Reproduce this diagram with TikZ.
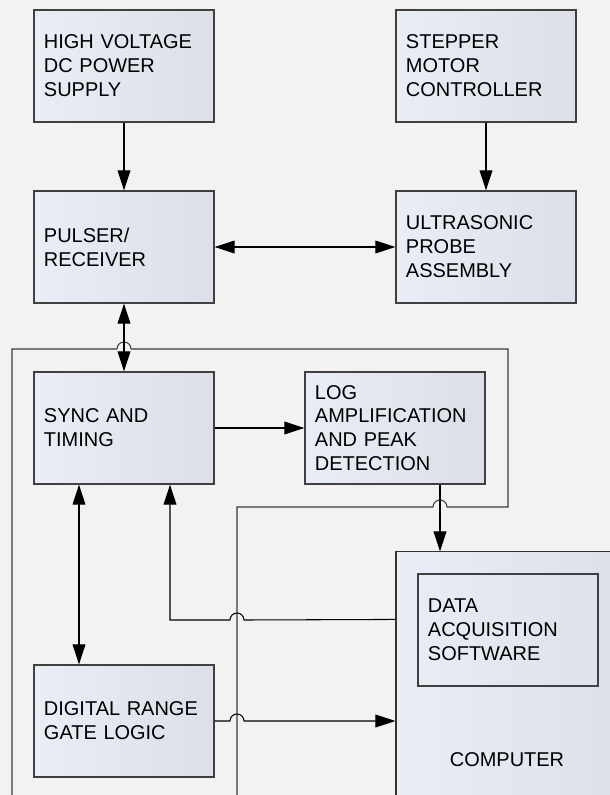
\documentclass[tikz,border=0pt]{standalone}
\usepackage{fontspec}
\setmainfont{Liberation Sans}
\usetikzlibrary{positioning,calc,arrows.meta}

\definecolor{bggray}{HTML}{F2F2F2}
\definecolor{boxlight}{HTML}{E9EDF6}
\definecolor{boxdark}{HTML}{DCDFE8}
\definecolor{loopgray}{HTML}{3A3A3A}

\begin{document}
\begin{tikzpicture}[x=0.025cm, y=0.025cm, >={Triangle[length=0.5cm,width=0.32cm]}]
	\fill[bggray] (0,0) rectangle (610,-795);
	\clip (0,0) rectangle (610,-795);
	\tikzstyle{every node}=[font=\fontsize{14.2}{17}\selectfont, inner sep=1pt]
	\tikzstyle{frame}=[draw=black!75, line width=0.9pt, minimum width=4.5cm, minimum height=2.8cm, text width=4cm, inner xsep=0.25cm, align=left]
	\tikzstyle{block}=[frame, left color=boxlight, right color=boxdark]
	\tikzstyle{link}=[line width=0.75pt]

	% computer and its software
	\node[draw=black!80, line width=0.75pt, left color=boxlight, right color=boxdark, minimum width=6.1cm, minimum height=6.7cm] (comp) at (518,-686) {};
	\node[frame] (daq) at (508,-630) {DATA\\ACQUISITION\\SOFTWARE};
	\node (comptext) at (507,-760) {COMPUTER};

	\node[block] (hv) at (124,-66) {HIGH VOLTAGE\\DC POWER\\SUPPLY};
	\node[block] (stepper) at (486,-66) {STEPPER\\MOTOR\\CONTROLLER};
	\node[block] (pulser) at (124,-247) {PULSER/\\RECEIVER};
	\node[block] (ultra) at (486,-247) {ULTRASONIC\\PROBE\\ASSEMBLY};
	\node[block] (sync) at (124,-428) {SYNC AND\\TIMING};
	\node[block] (log) at (395,-428) {LOG\\AMPLIFICATION\\AND PEAK\\DETECTION};
	\node[block] (dig) at (124,-721) {DIGITAL RANGE\\GATE LOGIC};

	% loop line running off the bottom
	\coordinate (loopa) at (12,-800);
	\coordinate (loopb) at (237,-800);
	\draw[link, loopgray] (loopa) -- (12,-349) -- (117,-349) arc[start angle=180, end angle=0, radius=7]
		-- (508,-349) -- (508,-507) -- (447,-507) arc[start angle=0, end angle=180, radius=7]
		-- (237,-507) -- (loopb);

	\draw[link, ->] (hv) to (pulser);
	\draw[link, ->] (stepper) to (ultra);
	\draw[link, <->] (pulser) to (ultra);
	\draw[link, <->] (pulser) to (sync);
	\draw[link, ->] (sync) to (log);
	\draw[link, ->] ($(log.south)+(45,0)$) coordinate (lg) -- (lg |- comp.north);
	\draw[link, <->] ($(sync.south)+(-45,0)$) coordinate (sd) -- (sd |- dig.north);
	\draw[link, ->] ($(comp.north west)+(0,-68)$) -- (244,-620) arc[start angle=0, end angle=180, radius=7]
		-- (170,-620) -- ($(sync.south)+(46,0)$);
	\draw[link, ->] (dig.east) -- (230,-721) arc[start angle=180, end angle=0, radius=7]
		-- (dig.east -| comp.west);
\end{tikzpicture}
\end{document}
